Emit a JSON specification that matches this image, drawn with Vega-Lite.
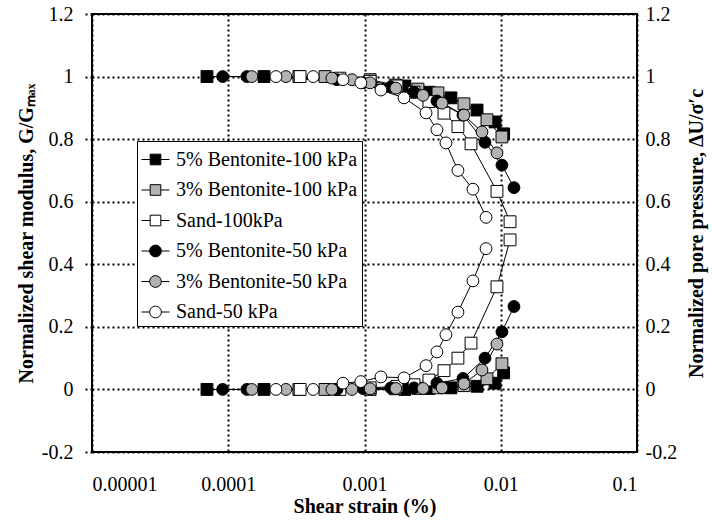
{
  "$schema": "https://vega.github.io/schema/vega-lite/v6.json",
  "width": 545,
  "height": 438,
  "autosize": {"type": "none"},
  "padding": {"left": 92, "top": 14, "right": 75, "bottom": 71},
  "background": "white",
  "data": {"values": [
    {"s": "5% Bentonite-100 kPa", "x": 0.0000698, "g": 1.0, "u": 0},
    {"s": "5% Bentonite-100 kPa", "x": 0.000183, "g": 1.0, "u": 0},
    {"s": "5% Bentonite-100 kPa", "x": 0.00198, "g": 0.97, "u": 0},
    {"s": "5% Bentonite-100 kPa", "x": 0.00297, "g": 0.95, "u": 0.003},
    {"s": "5% Bentonite-100 kPa", "x": 0.00431, "g": 0.932, "u": 0.005},
    {"s": "5% Bentonite-100 kPa", "x": 0.0067, "g": 0.893, "u": 0.01},
    {"s": "5% Bentonite-100 kPa", "x": 0.00908, "g": 0.855, "u": 0.02},
    {"s": "5% Bentonite-100 kPa", "x": 0.0105, "g": 0.817, "u": 0.053},

    {"s": "3% Bentonite-100 kPa", "x": 0.00033, "g": 1.0, "u": 0},
    {"s": "3% Bentonite-100 kPa", "x": 0.000513, "g": 1.0, "u": 0},
    {"s": "3% Bentonite-100 kPa", "x": 0.0011, "g": 0.99, "u": 0},
    {"s": "3% Bentonite-100 kPa", "x": 0.00168, "g": 0.973, "u": 0.002},
    {"s": "3% Bentonite-100 kPa", "x": 0.00247, "g": 0.96, "u": 0.003},
    {"s": "3% Bentonite-100 kPa", "x": 0.00346, "g": 0.948, "u": 0.005},
    {"s": "3% Bentonite-100 kPa", "x": 0.00537, "g": 0.913, "u": 0.012},
    {"s": "3% Bentonite-100 kPa", "x": 0.00792, "g": 0.862, "u": 0.034},
    {"s": "3% Bentonite-100 kPa", "x": 0.0102, "g": 0.807, "u": 0.082},

    {"s": "Sand-100kPa", "x": 0.000337, "g": 1.0, "u": 0},
    {"s": "Sand-100kPa", "x": 0.00066, "g": 0.995, "u": 0},
    {"s": "Sand-100kPa", "x": 0.0011, "g": 0.985, "u": 0.005},
    {"s": "Sand-100kPa", "x": 0.00173, "g": 0.97, "u": 0.01},
    {"s": "Sand-100kPa", "x": 0.00231, "g": 0.95, "u": 0.015},
    {"s": "Sand-100kPa", "x": 0.00297, "g": 0.92, "u": 0.03},
    {"s": "Sand-100kPa", "x": 0.00383, "g": 0.883, "u": 0.06},
    {"s": "Sand-100kPa", "x": 0.00485, "g": 0.84, "u": 0.1},
    {"s": "Sand-100kPa", "x": 0.00605, "g": 0.785, "u": 0.148},
    {"s": "Sand-100kPa", "x": 0.00938, "g": 0.633, "u": 0.328},
    {"s": "Sand-100kPa", "x": 0.0117, "g": 0.536, "u": 0.478},

    {"s": "5% Bentonite-50 kPa", "x": 0.000091, "g": 1.0, "u": 0},
    {"s": "5% Bentonite-50 kPa", "x": 0.000137, "g": 1.0, "u": 0},
    {"s": "5% Bentonite-50 kPa", "x": 0.000628, "g": 0.99, "u": 0},
    {"s": "5% Bentonite-50 kPa", "x": 0.000975, "g": 0.98, "u": 0.003},
    {"s": "5% Bentonite-50 kPa", "x": 0.00156, "g": 0.967, "u": 0.005},
    {"s": "5% Bentonite-50 kPa", "x": 0.00231, "g": 0.95, "u": 0.005},
    {"s": "5% Bentonite-50 kPa", "x": 0.0034, "g": 0.922, "u": 0.02},
    {"s": "5% Bentonite-50 kPa", "x": 0.00528, "g": 0.877, "u": 0.035},
    {"s": "5% Bentonite-50 kPa", "x": 0.00766, "g": 0.79, "u": 0.1},
    {"s": "5% Bentonite-50 kPa", "x": 0.0102, "g": 0.717, "u": 0.184},
    {"s": "5% Bentonite-50 kPa", "x": 0.0125, "g": 0.645, "u": 0.265},

    {"s": "3% Bentonite-50 kPa", "x": 0.000149, "g": 1.0, "u": 0},
    {"s": "3% Bentonite-50 kPa", "x": 0.000265, "g": 1.0, "u": 0},
    {"s": "3% Bentonite-50 kPa", "x": 0.000576, "g": 0.995, "u": 0},
    {"s": "3% Bentonite-50 kPa", "x": 0.000809, "g": 0.99, "u": 0},
    {"s": "3% Bentonite-50 kPa", "x": 0.0011, "g": 0.98, "u": 0.002},
    {"s": "3% Bentonite-50 kPa", "x": 0.0017, "g": 0.963, "u": 0.003},
    {"s": "3% Bentonite-50 kPa", "x": 0.00269, "g": 0.94, "u": 0.003},
    {"s": "3% Bentonite-50 kPa", "x": 0.00371, "g": 0.915, "u": 0.005},
    {"s": "3% Bentonite-50 kPa", "x": 0.00537, "g": 0.877, "u": 0.018},
    {"s": "3% Bentonite-50 kPa", "x": 0.00728, "g": 0.823, "u": 0.062},
    {"s": "3% Bentonite-50 kPa", "x": 0.00938, "g": 0.756, "u": 0.145},

    {"s": "Sand-50 kPa", "x": 0.000224, "g": 1.0, "u": 0},
    {"s": "Sand-50 kPa", "x": 0.00042, "g": 1.0, "u": 0},
    {"s": "Sand-50 kPa", "x": 0.000695, "g": 0.99, "u": 0.02},
    {"s": "Sand-50 kPa", "x": 0.00094, "g": 0.98, "u": 0.025},
    {"s": "Sand-50 kPa", "x": 0.00132, "g": 0.957, "u": 0.04},
    {"s": "Sand-50 kPa", "x": 0.00195, "g": 0.932, "u": 0.037},
    {"s": "Sand-50 kPa", "x": 0.00283, "g": 0.884, "u": 0.076},
    {"s": "Sand-50 kPa", "x": 0.0034, "g": 0.83, "u": 0.12},
    {"s": "Sand-50 kPa", "x": 0.00396, "g": 0.788, "u": 0.175},
    {"s": "Sand-50 kPa", "x": 0.00485, "g": 0.7, "u": 0.247},
    {"s": "Sand-50 kPa", "x": 0.00625, "g": 0.64, "u": 0.347},
    {"s": "Sand-50 kPa", "x": 0.0078, "g": 0.55, "u": 0.45}
  ]},
  "config": {
    "font": "Liberation Serif",
    "view": {"stroke": "black", "strokeWidth": 2},
    "axis": {
      "labelFont": "Liberation Serif", "labelFontSize": 20, "labelColor": "black",
      "titleFont": "Liberation Serif", "titleFontSize": 20, "titleFontWeight": "bold", "titleColor": "black",
      "domain": false, "gridColor": "black", "gridDash": [2, 3], "gridWidth": 2, "gridOpacity": 1,
      "tickColor": "black"
    }
  },
  "layer": [
    {
      "mark": {"type": "line", "color": "black", "strokeWidth": 1},
      "encoding": {
        "x": {"field": "x", "type": "quantitative", "scale": {"type": "log", "domain": [0.00001, 0.1]},
              "axis": {"title": "Shear strain (%)", "values": [0.00001, 0.0001, 0.001, 0.01, 0.1], "labelExpr": "toString(datum.value)", "grid": true, "ticks": false, "tickSize": 0, "labelPadding": 22, "titlePadding": 2}},
        "y": {"field": "g", "type": "quantitative", "scale": {"domain": [-0.2, 1.2], "nice": false, "zero": false},
              "axis": {"title": "Normalized shear modulus, G/Gₘₐₓ", "values": [-0.2, 0, 0.2, 0.4, 0.6, 0.8, 1, 1.2], "labelExpr": "toString(datum.value)", "grid": true, "tickSize": 10, "tickDash": [2, 3], "tickWidth": 2, "labelPadding": 9, "titlePadding": 5}},
        "detail": {"field": "s", "type": "nominal"}
      }
    },
    {
      "mark": {"type": "line", "color": "black", "strokeWidth": 1},
      "encoding": {
        "x": {"field": "x", "type": "quantitative", "scale": {"type": "log", "domain": [0.00001, 0.1]},
              "axis": {"title": "Shear strain (%)", "values": [0.00001, 0.0001, 0.001, 0.01, 0.1], "labelExpr": "toString(datum.value)", "grid": true, "ticks": false, "tickSize": 0, "labelPadding": 22, "titlePadding": 2}},
        "y": {"field": "u", "type": "quantitative", "scale": {"domain": [-0.2, 1.2], "nice": false, "zero": false},
              "axis": {"orient": "right", "title": "Normalized pore pressure, ΔU/σ′c", "values": [-0.2, 0, 0.2, 0.4, 0.6, 0.8, 1, 1.2], "labelExpr": "toString(datum.value)", "grid": false, "ticks": false, "tickSize": 0, "labelPadding": 8, "titleAngle": 270, "titlePadding": 30}},
        "detail": {"field": "s", "type": "nominal"}
      }
    },
    {
      "mark": {"type": "point", "filled": true, "stroke": "black", "strokeWidth": 1, "size": 140, "opacity": 1},
      "encoding": {
        "x": {"field": "x", "type": "quantitative", "scale": {"type": "log", "domain": [0.00001, 0.1]},
              "axis": {"title": "Shear strain (%)", "values": [0.00001, 0.0001, 0.001, 0.01, 0.1], "labelExpr": "toString(datum.value)", "grid": true, "ticks": false, "tickSize": 0, "labelPadding": 22, "titlePadding": 2}},
        "y": {"field": "g", "type": "quantitative", "scale": {"domain": [-0.2, 1.2], "nice": false, "zero": false}, "axis": null},
        "shape": {"field": "s", "type": "nominal", "legend": null, "scale": {"domain": ["5% Bentonite-100 kPa", "3% Bentonite-100 kPa", "Sand-100kPa", "5% Bentonite-50 kPa", "3% Bentonite-50 kPa", "Sand-50 kPa"], "range": ["square", "square", "square", "circle", "circle", "circle"]}},
        "fill": {"field": "s", "type": "nominal", "legend": null, "scale": {"domain": ["5% Bentonite-100 kPa", "3% Bentonite-100 kPa", "Sand-100kPa", "5% Bentonite-50 kPa", "3% Bentonite-50 kPa", "Sand-50 kPa"], "range": ["black", "#b2b2b2", "white", "black", "#b2b2b2", "white"]}}
      }
    },
    {
      "mark": {"type": "point", "filled": true, "stroke": "black", "strokeWidth": 1, "size": 140, "opacity": 1},
      "encoding": {
        "x": {"field": "x", "type": "quantitative", "scale": {"type": "log", "domain": [0.00001, 0.1]},
              "axis": {"title": "Shear strain (%)", "values": [0.00001, 0.0001, 0.001, 0.01, 0.1], "labelExpr": "toString(datum.value)", "grid": true, "ticks": false, "tickSize": 0, "labelPadding": 22, "titlePadding": 2}},
        "y": {"field": "u", "type": "quantitative", "scale": {"domain": [-0.2, 1.2], "nice": false, "zero": false}, "axis": null},
        "shape": {"field": "s", "type": "nominal", "legend": null, "scale": {"domain": ["5% Bentonite-100 kPa", "3% Bentonite-100 kPa", "Sand-100kPa", "5% Bentonite-50 kPa", "3% Bentonite-50 kPa", "Sand-50 kPa"], "range": ["square", "square", "square", "circle", "circle", "circle"]}},
        "fill": {"field": "s", "type": "nominal", "legend": null, "scale": {"domain": ["5% Bentonite-100 kPa", "3% Bentonite-100 kPa", "Sand-100kPa", "5% Bentonite-50 kPa", "3% Bentonite-50 kPa", "Sand-50 kPa"], "range": ["black", "#b2b2b2", "white", "black", "#b2b2b2", "white"]}}
      }
    },
    {
      "transform": [{"filter": "false"}],
      "mark": {"type": "point", "filled": true, "stroke": "black", "strokeWidth": 1, "size": 784, "opacity": 1},
      "encoding": {
        "x": {"field": "x", "type": "quantitative", "scale": {"type": "log", "domain": [0.00001, 0.1]},
              "axis": {"title": "Shear strain (%)", "values": [0.00001, 0.0001, 0.001, 0.01, 0.1], "labelExpr": "toString(datum.value)", "grid": true, "ticks": false, "tickSize": 0, "labelPadding": 22, "titlePadding": 2}},
        "y": {"field": "g", "type": "quantitative", "scale": {"domain": [-0.2, 1.2], "nice": false, "zero": false}, "axis": null},
        "shape": {"field": "s", "type": "nominal", "title": null,
                  "scale": {"domain": ["5% Bentonite-100 kPa", "3% Bentonite-100 kPa", "Sand-100kPa", "5% Bentonite-50 kPa", "3% Bentonite-50 kPa", "Sand-50 kPa"],
                            "range": ["M-1,0H-0.38M0.38,0H1M-0.38,-0.38H0.38V0.38H-0.38Z", "M-1,0H-0.38M0.38,0H1M-0.38,-0.38H0.38V0.38H-0.38Z", "M-1,0H-0.38M0.38,0H1M-0.38,-0.38H0.38V0.38H-0.38Z", "M-1,0H-0.42M0.42,0H1M-0.42,0A0.42,0.42,0,1,1,0.42,0A0.42,0.42,0,1,1,-0.42,0Z", "M-1,0H-0.42M0.42,0H1M-0.42,0A0.42,0.42,0,1,1,0.42,0A0.42,0.42,0,1,1,-0.42,0Z", "M-1,0H-0.42M0.42,0H1M-0.42,0A0.42,0.42,0,1,1,0.42,0A0.42,0.42,0,1,1,-0.42,0Z"]},
                  "legend": {"orient": "none", "legendX": 45, "legendY": 127, "direction": "vertical", "columns": 1, "title": null, "labelFont": "Liberation Serif", "labelFontSize": 20, "labelColor": "black", "labelLimit": 400, "symbolSize": 784, "symbolStrokeColor": "black", "symbolStrokeWidth": 1, "symbolOpacity": 1, "strokeColor": "black", "fillColor": "white", "padding": 4, "rowPadding": 5.5, "labelOffset": 6,
                             "encode": {"symbols": {"update": {"stroke": {"value": "black"}, "strokeWidth": {"value": 1}, "size": {"value": 784}}}}}},
        "fill": {"field": "s", "type": "nominal", "title": null,
                 "scale": {"domain": ["5% Bentonite-100 kPa", "3% Bentonite-100 kPa", "Sand-100kPa", "5% Bentonite-50 kPa", "3% Bentonite-50 kPa", "Sand-50 kPa"], "range": ["black", "#b2b2b2", "white", "black", "#b2b2b2", "white"]},
                 "legend": {"orient": "none", "legendX": 45, "legendY": 127, "direction": "vertical", "columns": 1, "title": null, "labelFont": "Liberation Serif", "labelFontSize": 20, "labelColor": "black", "labelLimit": 400, "symbolSize": 784, "symbolStrokeColor": "black", "symbolStrokeWidth": 1, "symbolOpacity": 1, "strokeColor": "black", "fillColor": "white", "padding": 4, "rowPadding": 5.5, "labelOffset": 6,
                            "encode": {"symbols": {"update": {"stroke": {"value": "black"}, "strokeWidth": {"value": 1}, "size": {"value": 784}}}}}}
      }
    }
  ],
  "resolve": {"scale": {"y": "independent", "shape": "independent", "fill": "independent"}, "legend": {"shape": "independent", "fill": "independent"}}
}
